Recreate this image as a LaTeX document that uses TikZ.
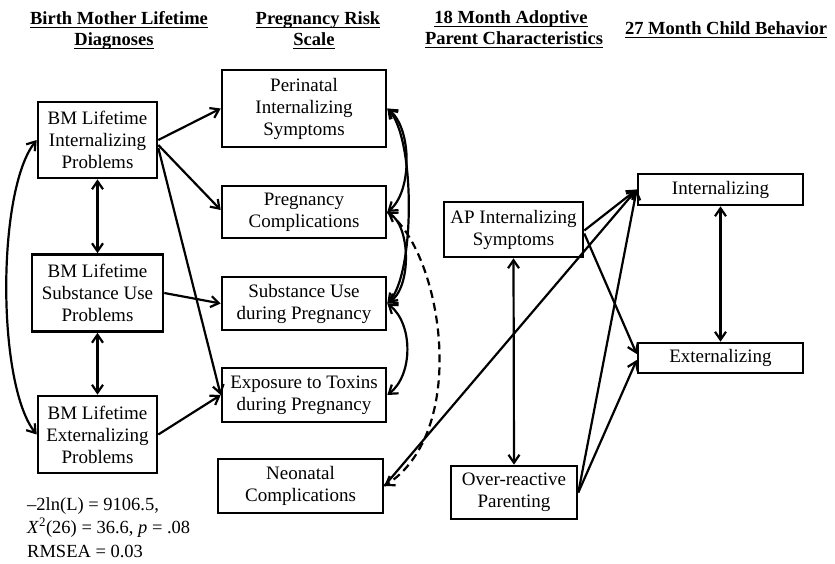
\documentclass[tikz,border=0pt]{standalone}
\usepackage{fontspec}
\setmainfont{Liberation Serif}
\usetikzlibrary{arrows.meta}
\newcommand\hdul[1]{\setbox0\hbox{#1}\rlap{\rule[-3.2pt]{\wd0}{1.4pt}}\box0}
\begin{document}
\begin{tikzpicture}[x=1pt,y=-1pt,
  box/.style={draw,line width=2.6pt,align=center,inner sep=0pt,font=\fontsize{19}{22}\selectfont},
  hdr/.style={anchor=base,inner sep=0pt,font=\fontsize{18.5}{22}\selectfont\bfseries},
  stat/.style={anchor=base west,inner sep=0pt,font=\fontsize{18.5}{22}\selectfont},
  reg/.style={line width=2.2pt,-{Straight Barb[length=8pt,width=11pt]}},
  cov/.style={line width=2.2pt,{Straight Barb[length=8pt,width=11pt]}-{Straight Barb[length=8pt,width=11pt]}},
  dashline/.style={dash pattern=on 8pt off 5pt}
]
\useasboundingbox (0,0) rectangle (835,564);

% headers
\node[hdr] (h1a) at (119,25) {\hdul{Birth Mother Lifetime}};
\node[hdr] (h1b) at (114,46) {\hdul{Diagnoses}};
\node[hdr] (h2a) at (318,25) {\hdul{Pregnancy Risk}};
\node[hdr] (h2b) at (314,46) {\hdul{Scale}};
\node[hdr] (h3a) at (511,24) {\hdul{18 Month Adoptive}};
\node[hdr] (h3b) at (514,45) {\hdul{Parent Characteristics}};
\node[hdr] (h4)  at (726,35) {\hdul{27 Month Child Behavior}};

% boxes
\node[box,minimum width=119pt,minimum height=76pt] (bmi) at (97.5,140) {BM Lifetime\\Internalizing\\Problems};
\node[box,minimum width=131pt,minimum height=77pt] (bms) at (97.5,293) {BM Lifetime\\Substance Use\\Problems};
\node[box,minimum width=119pt,minimum height=77pt] (bme) at (97.5,434.5) {BM Lifetime\\Externalizing\\Problems};

\node[box,minimum width=164pt,minimum height=77pt] (per) at (304,108.5) {Perinatal\\Internalizing\\Symptoms};
\node[box,minimum width=164pt,minimum height=52pt] (pc)  at (304,212) {Pregnancy\\Complications};
\node[box,minimum width=164pt,minimum height=53pt] (su)  at (304,303.5) {Substance Use\\during Pregnancy};
\node[box,minimum width=164pt,minimum height=54pt] (ex)  at (304,395) {Exposure to Toxins\\during Pregnancy};
\node[box,minimum width=165pt,minimum height=54pt] (neo) at (300.5,486) {Neonatal\\Complications};

\node[box,minimum width=139pt,minimum height=55pt] (api) at (513.5,229.5) {AP Internalizing\\Symptoms};
\node[box,minimum width=126pt,minimum height=53pt] (orp) at (514,492.5) {Over-reactive\\Parenting};

\node[box,minimum width=165pt,minimum height=31pt] (cint) at (720.5,189.5) {Internalizing};
\node[box,minimum width=165pt,minimum height=30pt] (cext) at (720.5,358) {Externalizing};

% fit statistics
\node[stat] (st1) at (27,510) {–2ln(L) = 9106.5,};
\node[stat] (st2) at (27,533) {\textit{X}\textsuperscript{2}(26) = 36.6, \textit{p} = .08};
\node[stat] (st3) at (27,557) {RMSEA = 0.03};

% birth mother paths
\draw[reg] (bmi.east) -- (per.west);
\draw[reg] ([yshift=-5pt]bmi.east) -- ([yshift=2pt]pc.west);
\draw[reg] ([yshift=-8pt]bmi.east) -- (ex.west);
\draw[reg] (bms.east) -- (su.west);
\draw[reg] (bme.east) -- (ex.west);
\draw[cov] (bmi.south) -- (bms.north);
\draw[cov] (bms.south) -- (bme.north);
\draw[cov] (bmi.west) .. controls +(-40,50) and +(-40,-50) .. (bme.west);

% pregnancy risk covariances
\draw[cov] (per.east) .. controls +(25,20) and +(25,-20) .. (pc.east);
\draw[cov] (per.east) .. controls +(28,30) and +(28,-30) .. (su.east);
\draw[cov] (pc.east) .. controls +(24,15) and +(24,-15) .. (su.east);
\draw[cov] (su.east) .. controls +(26,20) and +(26,-20) .. (ex.east);
\draw[reg,dashline] (pc.east) .. controls +(54,38) and +(87,-56) .. (neo.east);

% child outcome paths
\draw[reg] (neo.east) -- (cint.west);
\draw[reg] ([yshift=-1pt]api.east) -- (cint.west);
\draw[reg] ([yshift=-4pt]api.east) -- ([yshift=4pt]cext.west);
\draw[reg] (orp.east) -- (cint.west);
\draw[reg] (orp.east) -- ([yshift=-2pt]cext.west);
\draw[cov] (api.south) -- (orp.north);
\draw[cov] (cint.south) -- (cext.north);
\end{tikzpicture}
\end{document}
